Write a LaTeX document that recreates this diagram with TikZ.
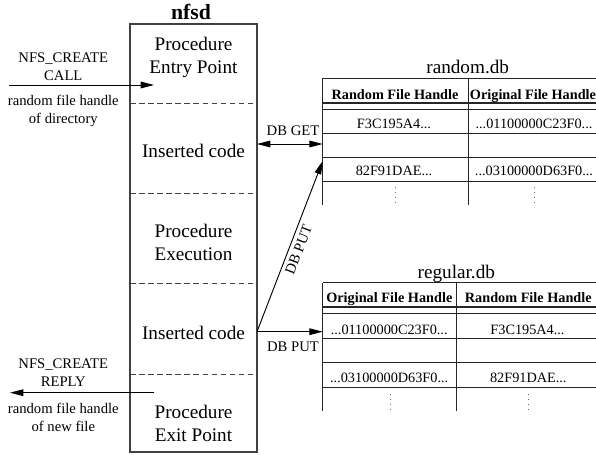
\documentclass[tikz,border=0pt]{standalone}
\usepackage{fontspec}
\setmainfont{Liberation Serif}
\usetikzlibrary{arrows.meta, positioning}

\begin{document}
\begin{tikzpicture}[
  x=0.75pt, y=-0.75pt,
  part/.style={font=\fontsize{14.4}{17.3}\selectfont, align=center, inner sep=0pt, anchor=north},
  msg/.style={font=\fontsize{11}{13.5}\selectfont, align=center, inner sep=0pt, anchor=north},
  dblabel/.style={font=\fontsize{11}{13}\selectfont, inner sep=0pt},
  dbname/.style={font=\fontsize{14.4}{17}\selectfont, inner sep=0pt, anchor=base},
  hdr/.style={font=\fontsize{10.7}{12}\selectfont\bfseries, inner sep=0pt, anchor=base},
  cell/.style={font=\fontsize{10.7}{12}\selectfont, inner sep=0pt, anchor=base},
  arr/.style={-{Triangle[length=10pt, width=5pt]}, black, line width=0.7pt},
  nfsdbox/.style={draw=black!75, line width=0.8pt},
  cut/.style={draw=black!75, line width=0.7pt, dash pattern=on 4.2pt off 2.6pt},
  tabline/.style={draw=black!85, line width=0.7pt},
  dbl/.style={draw=black!85, line width=1.4pt},
  dotcol/.style={draw=black!60, line width=0.8pt, dash pattern=on 0.8pt off 3pt}
]
\clip (0,0) rectangle (596,454);

% nfsd process
\node[font=\fontsize{16.3}{18}\selectfont\bfseries, inner sep=0pt, anchor=base] (nfsd) at (191,19) {nfsd};
\draw[nfsdbox] (130,24) rectangle (257,452);
\draw[cut] (130,103) -- (257,103);
\draw[cut] (130,193) -- (257,193);
\draw[cut] (130,283.5) -- (257,283.5);
\draw[cut] (130,374.5) -- (257,374.5);
\node[part] (entry) at (193.5,36.7) {Procedure\\Entry Point};
\node[part] (insget) at (193.5,144.3) {Inserted code};
\node[part] (exec) at (193.5,224) {Procedure\\Execution};
\node[part] (insput) at (193.5,326) {Inserted code};
\node[part] (exit) at (193.5,405) {Procedure\\Exit Point};

% request and reply
\coordinate (callin) at (9,85);
\coordinate (callend) at (154,85);
\coordinate (replyin) at (154,392.7);
\coordinate (replyend) at (10,392.7);
\node[msg] (callmsg) at (63.3,52.7) {NFS\_CREATE\\CALL};
\node[msg] (callarg) at (63.3,95) {random file handle\\of directory};
\node[msg] (replymsg) at (63.3,358.3) {NFS\_CREATE\\REPLY};
\node[msg] (replyarg) at (63.3,402.7) {random file handle\\of new file};
\draw[arr] (callin) -- (callend);
\draw[arr] (replyin) -- (replyend);

% random.db
\node[dbname] (randdb) at (467.7,73.3) {random.db};
\draw[tabline] (322.7,78.3) -- (600,78.3);
\draw[dbl] (322.7,102.7) -- (600,102.7);
\foreach \y in {109,133.3,157.3,181.7}
  \draw[tabline] (322.7,\y) -- (600,\y);
\draw[tabline] (322.7,78.3) -- (322.7,205) (468.3,78.3) -- (468.3,205);
\node[hdr] (randkey) at (395,99.3) {Random File Handle};
\node[hdr] (randval) at (533,99.3) {Original File Handle};
\node[cell] (randa) at (394,128.3) {F3C195A4...};
\node[cell] (randb) at (534,128.3) {...01100000C23F0...};
\node[cell] (randc) at (394,175.5) {82F91DAE...};
\node[cell] (randd) at (534,175.5) {...03100000D63F0...};
\draw[dotcol] (395.7,187) -- (395.7,205) (534.3,187) -- (534.3,205);

% regular.db
\node[dbname] (regdb) at (456.3,278.3) {regular.db};
\draw[tabline] (322.7,282.7) -- (600,282.7);
\draw[dbl] (322.7,307.3) -- (600,307.3);
\foreach \y in {313.3,338.3,362.7,387.3}
  \draw[tabline] (322.7,\y) -- (600,\y);
\draw[tabline] (322.7,282.7) -- (322.7,410.7) (456,282.7) -- (456,410.7);
\node[hdr] (regkey) at (389.3,302) {Original File Handle};
\node[hdr] (regval) at (528.3,302) {Random File Handle};
\node[cell] (rega) at (389.2,334) {...01100000C23F0...};
\node[cell] (regb) at (527.5,334) {F3C195A4...};
\node[cell] (regc) at (389.2,382.7) {...03100000D63F0...};
\node[cell] (regd) at (528.3,382.7) {82F91DAE...};
\draw[dotcol] (390.7,394) -- (390.7,410.7) (528.3,394) -- (528.3,410.7);

% database accesses
\coordinate (getfrom) at (257,144);
\coordinate (getto) at (322.7,144);
\coordinate (putfrom) at (257,331.7);
\coordinate (putrand) at (322.7,161);
\coordinate (putreg) at (322.7,331.7);
\draw[arr, {Triangle[length=10pt, width=5pt]}-{Triangle[length=10pt, width=5pt]}] (getfrom) -- (getto);
\node[dblabel, anchor=base] (getlbl) at (293,135) {DB GET};
\draw[arr] (putfrom) -- (putrand) node[dblabel, midway, sloped, below=3pt] (putlbla) {DB PUT};
\draw[arr] (putfrom) -- (putreg);
\node[dblabel, anchor=base] (putlblb) at (293,351.5) {DB PUT};
\end{tikzpicture}
\end{document}
